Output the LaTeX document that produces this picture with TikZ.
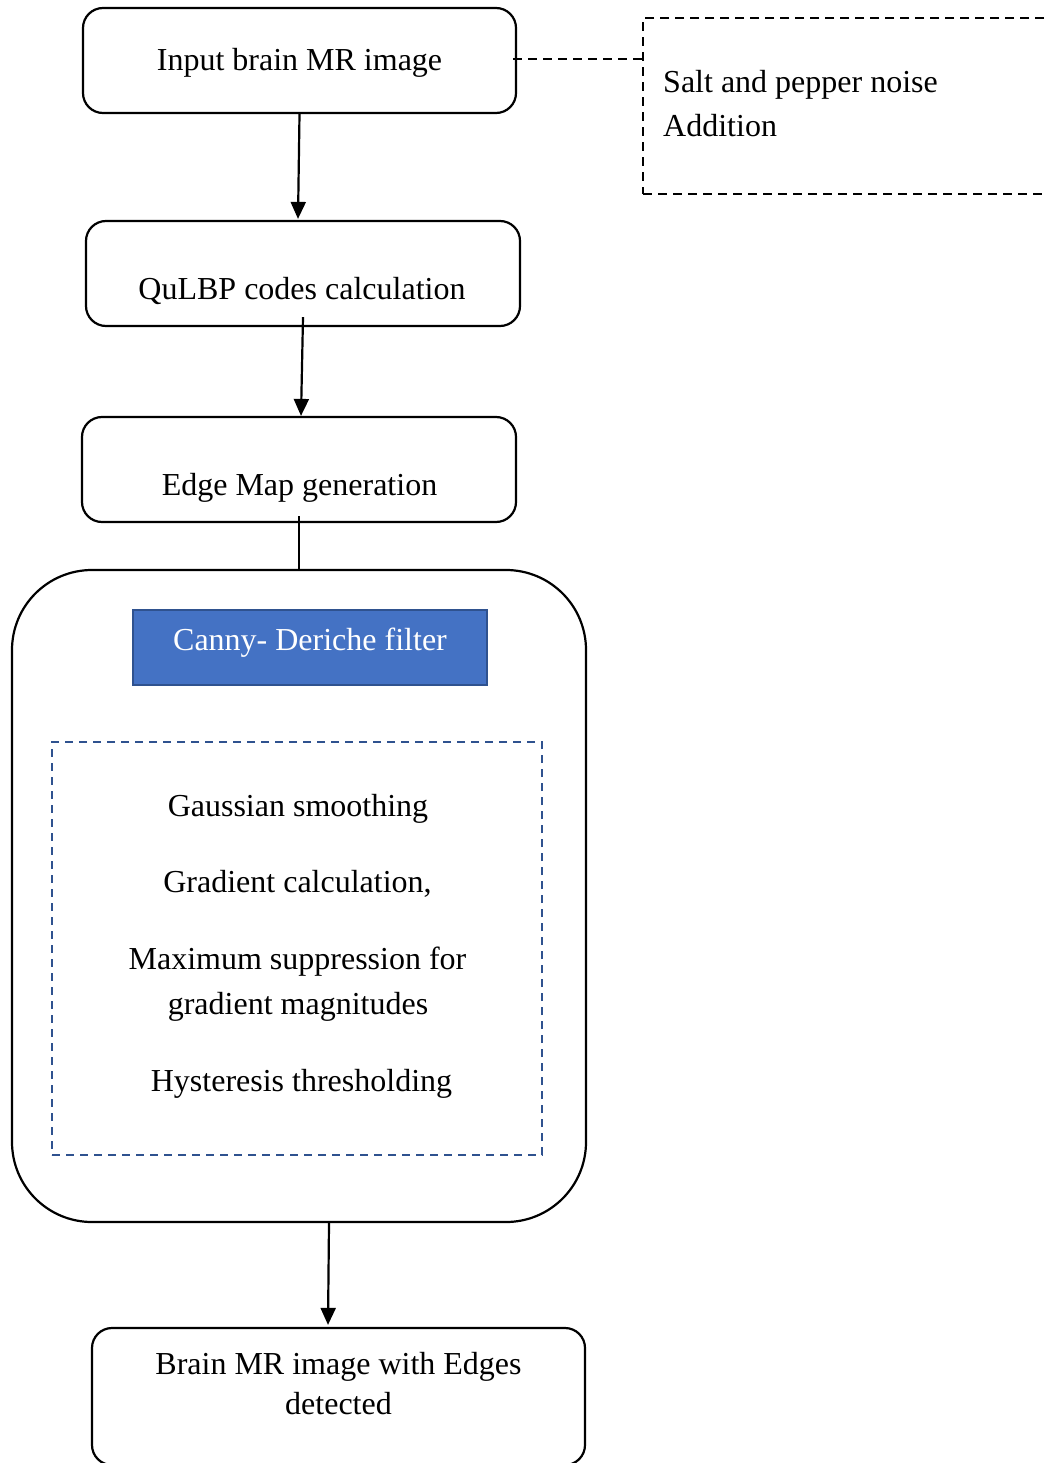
\documentclass[tikz,border=0pt]{standalone}
\usepackage{fontspec}
\setmainfont{Liberation Serif}
\usetikzlibrary{arrows.meta,calc}
\definecolor{fillblue}{HTML}{4472C4}
\definecolor{edgeblue}{HTML}{2F528F}
\begin{document}
\begin{tikzpicture}[x=1pt,y=-1pt,
 box/.style={draw,line width=2.2pt,rounded corners=20pt,inner sep=0pt},
 txt/.style={font=\fontsize{32}{40}\selectfont,inner sep=0pt,anchor=center,text height=22pt,text depth=7pt},
 ltxt/.style={txt,anchor=west},
 arr/.style={line width=2.2pt,-{Triangle[width=15pt,length=17pt]}},
 blackdash/.style={line width=2.4pt,dash pattern=on 9pt off 6pt},
 bluedash/.style={draw=edgeblue,line width=2pt,dash pattern=on 8pt off 6pt}]
\useasboundingbox (0,0) rectangle (1045,1463);
\fill[white] (0,0) rectangle (1045,1463);
% boxes
\node[box,minimum width=433pt,minimum height=105pt] (b1) at (299.5,60.5) {};
\node[box,minimum width=434pt,minimum height=105pt] (b2) at (303,273.5) {};
\node[box,minimum width=434pt,minimum height=105pt] (b3) at (299,469.5) {};
\node[box,rounded corners=80pt,minimum width=574pt,minimum height=652pt] (big) at (299,896) {};
\node[box,minimum width=493pt,minimum height=137pt] (fin) at (338.5,1396.5) {};
\node[draw=edgeblue,fill=fillblue,line width=1.8pt,inner sep=0pt,minimum width=354pt,minimum height=75pt] (canny) at (310,647.5) {};
\node[bluedash,inner sep=0pt,minimum width=490pt,minimum height=413pt] (steps) at (297,948.5) {};
\node[blackdash,draw,inner sep=0pt,minimum width=420pt,minimum height=176pt,anchor=north west] (noise) at (642,17) {};
% texts
\node[txt] (t1) at (299.5,63) {Input brain MR image};
\node[txt] (t2) at (302,292) {QuLBP codes calculation};
\node[txt] (t3) at (299.5,488) {Edge Map generation};
\node[ltxt] (n1) at (663,85) {Salt and pepper noise};
\node[ltxt] (n2) at (663,129) {Addition};
\node[txt,text=white] (tc) at (310,643) {Canny- Deriche filter};
\node[txt] (s1) at (298,809) {Gaussian smoothing};
\node[txt] (s2) at (297.5,885) {Gradient calculation,};
\node[txt] (s3) at (297.5,962) {Maximum suppression for};
\node[txt] (s4) at (298,1007) {gradient magnitudes};
\node[txt] (s5) at (301.5,1084) {Hysteresis thresholding};
\node[txt] (f1) at (338.5,1367) {Brain MR image with Edges};
\node[txt] (f2) at (338.5,1407) {detected};
% connectors
\draw[blackdash] ([xshift=-4pt,yshift=1.5pt]b1.east) -- ([yshift=1.5pt]b1.east -| noise.west);
\draw[arr] (b1.south) -- ([xshift=-5pt,yshift=1pt]b2.north);
\draw[arr] ([yshift=10pt]b2.south) -- ([xshift=2pt]b3.north);
\draw[line width=2.2pt] ([yshift=7pt]b3.south) -- (big.north);
\draw[arr] ([xshift=30pt]big.south) -- ([xshift=-10.5pt,yshift=2pt]fin.north);
\end{tikzpicture}
\end{document}
